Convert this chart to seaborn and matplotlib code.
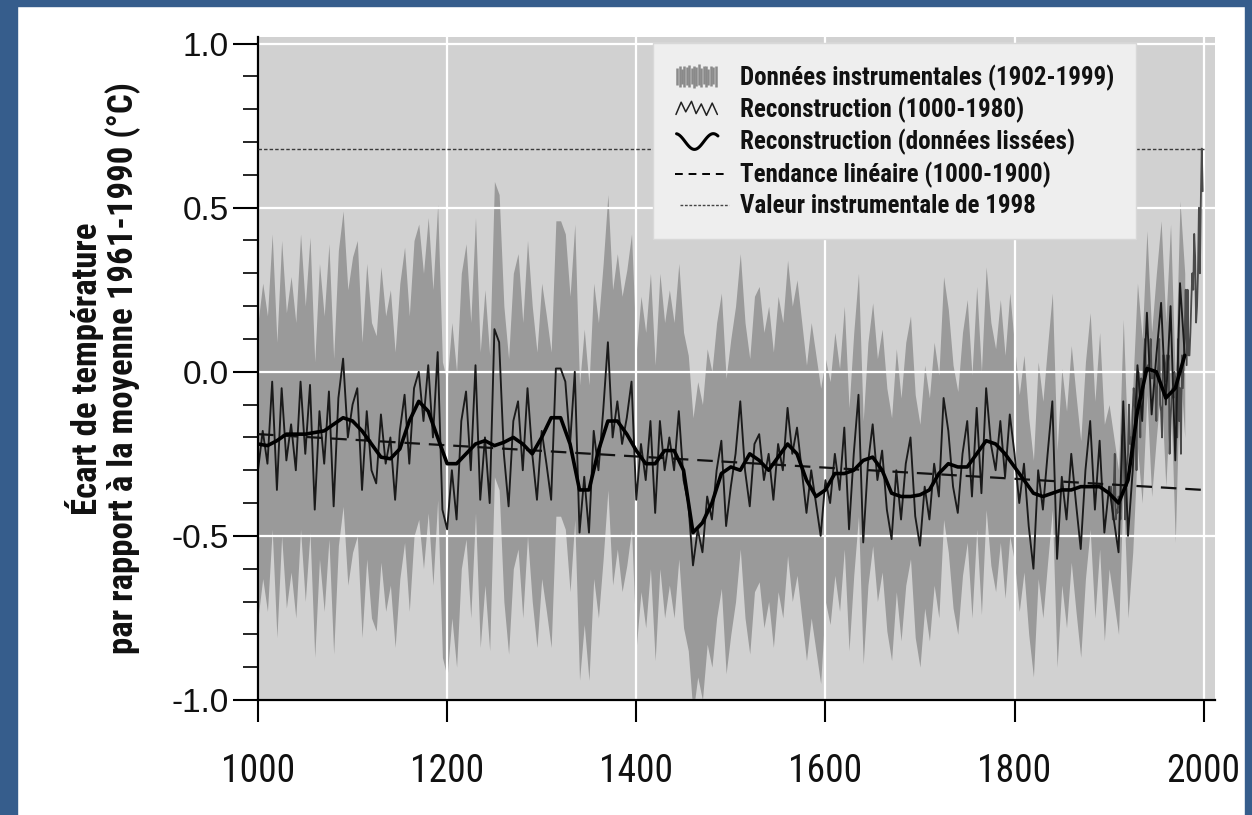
import numpy as np
import pandas as pd
import matplotlib
matplotlib.use("Agg")
import matplotlib.pyplot as plt
import seaborn as sns
from matplotlib.legend_handler import HandlerBase
from matplotlib.lines import Line2D
from matplotlib.collections import LineCollection
from matplotlib.patches import Rectangle
from matplotlib import font_manager as fm
from matplotlib.ticker import MultipleLocator, FixedLocator

# ---------------- data ----------------
recon_years = list(range(1000, 1981, 5))
recon_values = [
    # 1000-1095
    -0.30, -0.18, -0.28, -0.03, -0.36, -0.05, -0.27, -0.16, -0.30, -0.03,
    -0.25, -0.04, -0.42, -0.12, -0.28, -0.06, -0.41, -0.08, 0.04, -0.20,
    # 1100-1195
    -0.10, -0.05, -0.36, -0.12, -0.30, -0.34, -0.13, -0.28, -0.20, -0.39,
    -0.18, -0.07, -0.28, -0.05, 0.00, -0.15, 0.02, -0.20, 0.06, -0.42,
    # 1200-1295
    -0.48, -0.30, -0.45, -0.15, -0.06, -0.30, 0.02, -0.39, -0.20, -0.40,
    0.13, 0.09, -0.25, -0.41, -0.15, -0.09, -0.30, -0.05, -0.25, -0.39,
    # 1300-1395
    -0.18, -0.28, -0.39, 0.01, 0.01, -0.03, -0.22, 0.00, -0.49, -0.32,
    -0.49, -0.18, -0.30, -0.12, 0.09, -0.20, -0.09, -0.22, -0.14, -0.03,
    # 1400-1495
    -0.39, -0.22, -0.33, -0.15, -0.43, -0.15, -0.30, -0.20, -0.30, -0.12,
    -0.33, -0.40, -0.59, -0.48, -0.55, -0.38, -0.45, -0.30, -0.21, -0.47,
    # 1500-1595
    -0.35, -0.25, -0.09, -0.30, -0.41, -0.22, -0.19, -0.33, -0.25, -0.39,
    -0.22, -0.30, -0.11, -0.25, -0.17, -0.30, -0.43, -0.30, -0.40, -0.50,
    # 1600-1695
    -0.33, -0.40, -0.25, -0.36, -0.17, -0.48, -0.25, -0.07, -0.52, -0.28,
    -0.16, -0.33, -0.24, -0.42, -0.51, -0.30, -0.45, -0.28, -0.20, -0.44,
    # 1700-1795
    -0.53, -0.35, -0.45, -0.28, -0.38, -0.08, -0.18, -0.35, -0.43, -0.25,
    -0.15, -0.38, -0.11, -0.37, -0.05, -0.22, -0.30, -0.15, -0.32, -0.13,
    # 1800-1895
    -0.25, -0.40, -0.28, -0.47, -0.60, -0.30, -0.42, -0.25, -0.09, -0.57,
    -0.32, -0.45, -0.25, -0.40, -0.54, -0.30, -0.15, -0.42, -0.21, -0.49,
    # 1900-1980
    -0.35, -0.45, -0.55, -0.09, -0.50, -0.30, 0.02, -0.15, 0.18, -0.13,
    0.05, 0.21, -0.10, 0.20, -0.27, 0.27, 0.05,
]

smooth_years = list(range(1000, 1981, 10))
smooth_values = [
    -0.22, -0.225, -0.21, -0.19, -0.19, -0.19, -0.185, -0.18, -0.16, -0.14,
    -0.15, -0.18, -0.22, -0.26, -0.265, -0.235, -0.15, -0.09, -0.12, -0.20,
    -0.28, -0.28, -0.25, -0.22, -0.21, -0.225, -0.215, -0.20, -0.22, -0.25,
    -0.20, -0.14, -0.14, -0.22, -0.36, -0.36, -0.24, -0.15, -0.15, -0.19,
    -0.24, -0.28, -0.28, -0.24, -0.24, -0.30, -0.49, -0.46, -0.40, -0.31,
    -0.29, -0.30, -0.25, -0.27, -0.30, -0.26, -0.22, -0.25, -0.33, -0.38,
    -0.36, -0.31, -0.31, -0.30, -0.27, -0.26, -0.30, -0.37, -0.38, -0.38,
    -0.375, -0.36, -0.31, -0.28, -0.29, -0.29, -0.25, -0.21, -0.22, -0.25,
    -0.29, -0.33, -0.37, -0.38, -0.37, -0.36, -0.36, -0.35, -0.35, -0.35,
    -0.37, -0.40, -0.33, -0.12, 0.01, 0.00, -0.08, -0.05, 0.05,
]

instr_years = list(range(1902, 2000))
instr_values = [
    -0.35, -0.40, -0.45, -0.35, -0.25, -0.45, -0.42, -0.43,               # 1902-1909
    -0.38, -0.40, -0.45, -0.38, -0.20, -0.18, -0.32, -0.45, -0.30, -0.28, # 1910s
    -0.25, -0.10, -0.22, -0.20, -0.25, -0.12, -0.05, -0.10, -0.12, -0.30, # 1920s
    -0.02, 0.00, -0.05, -0.20, -0.02, -0.08, -0.05, 0.05, 0.10, 0.00,     # 1930s
    0.00, 0.02, 0.00, 0.05, 0.10, -0.02, -0.02, 0.00, -0.02, -0.05,       # 1940s
    -0.15, -0.02, 0.02, 0.10, -0.10, -0.12, -0.20, 0.05, 0.05, 0.02,      # 1950s
    -0.03, 0.05, 0.02, 0.05, -0.25, -0.15, -0.08, -0.05, -0.08, 0.00,     # 1960s
    -0.02, -0.15, -0.20, 0.10, -0.15, -0.05, -0.25, 0.05, -0.05, 0.05,    # 1970s
    0.12, 0.25, 0.02, 0.25, 0.05, 0.05, 0.12, 0.22, 0.30, 0.25,           # 1980s
    0.42, 0.35, 0.15, 0.20, 0.30, 0.50, 0.30, 0.52, 0.68, 0.55,           # 1990s
]

trend_years = [1000, 2000]
trend_values = [-0.19, -0.36]

value_1998 = 0.68
line_1998_years = [1000, 2000]

band_breaks = [1000, 1600, 1800, 1900]
band_halfwidth = [0.45, 0.37, 0.33, 0.25]

x_ticks = [1000, 1200, 1400, 1600, 1800, 2000]
y_ticks = [-1.0, -0.5, 0.0, 0.5, 1.0]
y_ticklabels = ["-1.0", "-0.5", "0.0", "0.5", "1.0"]

legend_labels = [
    "Données instrumentales (1902-1999)",
    "Reconstruction (1000-1980)",
    "Reconstruction (données lissées)",
    "Tendance linéaire (1000-1900)",
    "Valeur instrumentale de 1998",
]
ylabel_text = "Écart de température\npar rapport à la moyenne 1961-1990 (°C)"

# ---------------- style ----------------
sns.set_theme(style="darkgrid", rc={
    "axes.facecolor": "#d1d1d1",
    "grid.color": "white",
    "grid.linewidth": 1.6,
    "figure.facecolor": "white",
})

avail = {f.name for f in fm.fontManager.ttflist}
def pick(names):
    for n in names:
        if n in avail:
            return n
    return "DejaVu Sans"

narrow = pick(["Liberation Sans Narrow", "Roboto Condensed", "Open Sans Condensed", "Liberation Sans"])
regular = pick(["Liberation Sans", "Arimo", "Roboto", "DejaVu Sans"])
plt.rcParams["font.family"] = [narrow, "DejaVu Sans"]

fig = plt.figure(figsize=(12.52, 8.15), dpi=100)
W, H = 1252, 815
ax_left, ax_right, ax_top, ax_bottom = 258, 1215, 37, 700
ax = fig.add_axes([ax_left / W, 1 - ax_bottom / H,
                   (ax_right - ax_left) / W, (ax_bottom - ax_top) / H])

# blue frame of the scan
frame_col = "#365d8c"
fig.patches.append(Rectangle((0, 0), 17 / W, 1, transform=fig.transFigure, color=frame_col, zorder=-5))
fig.patches.append(Rectangle((1 - 7 / W, 0), 7 / W, 1, transform=fig.transFigure, color=frame_col, zorder=-5))
fig.patches.append(Rectangle((0, 1 - 6 / H), 1, 6 / H, transform=fig.transFigure, color=frame_col, zorder=-5))

# ---------------- data frames ----------------
ry = np.array(recon_years)
rv = np.array(recon_values)
hw = np.array(band_halfwidth)[np.searchsorted(band_breaks, ry, side="right") - 1]
recon_df = pd.DataFrame({"year": ry, "value": rv, "lo": rv - hw, "hi": rv + hw})
smooth_df = pd.DataFrame({"year": smooth_years, "value": smooth_values})
instr_df = pd.DataFrame({"year": instr_years, "value": instr_values})
trend_df = pd.DataFrame({"year": trend_years, "value": trend_values})
ref_df = pd.DataFrame({"year": line_1998_years, "value": [value_1998, value_1998]})

# uncertainty band
ax.fill_between(recon_df["year"], recon_df["lo"], recon_df["hi"],
                color="#9a9a9a", lw=0, zorder=1)

sns.lineplot(data=instr_df, x="year", y="value", ax=ax, color="#4a4a4a",
             lw=1.3, legend=False, estimator=None, sort=False, zorder=2)
sns.lineplot(data=recon_df, x="year", y="value", ax=ax, color="#1a1a1a",
             lw=1.35, legend=False, estimator=None, sort=False, zorder=2.5)
sns.lineplot(data=trend_df, x="year", y="value", ax=ax, color="#111111",
             lw=1.6, legend=False, estimator=None, zorder=3)
ax.lines[-1].set_dashes([7, 4])
sns.lineplot(data=smooth_df, x="year", y="value", ax=ax, color="black",
             lw=2.6, legend=False, estimator=None, zorder=3.5)
ax.lines[-1].set_solid_joinstyle("round")
sns.lineplot(data=ref_df, x="year", y="value", ax=ax, color="#3a3a3a",
             lw=1.0, legend=False, estimator=None, zorder=3)
ax.lines[-1].set_dashes([2.5, 1.5])

# ---------------- axes ----------------
ax.set_xlim(1000, 2012)
ax.set_ylim(-1.0, 1.02)
ax.set_axisbelow("line")
ax.xaxis.set_major_locator(FixedLocator(x_ticks))
ax.set_yticks(y_ticks)
ax.set_yticklabels(y_ticklabels)
ax.yaxis.set_minor_locator(MultipleLocator(0.1))
ax.grid(True, which="major", color="white", lw=1.6)
ax.grid(False, which="minor")

for s in ["top", "right"]:
    ax.spines[s].set_visible(False)
for s in ["left", "bottom"]:
    ax.spines[s].set_visible(True)
    ax.spines[s].set_color("black")
    ax.spines[s].set_linewidth(1.6)

ax.tick_params(axis="y", which="major", direction="out", length=18, width=1.5,
               color="black", left=True, pad=3)
ax.tick_params(axis="y", which="minor", direction="out", length=11, width=1.2,
               color="black", left=True)
ax.tick_params(axis="x", which="major", direction="out", length=16, width=1.5,
               color="black", bottom=True, pad=22)
for lab in ax.get_yticklabels():
    lab.set_fontfamily([regular, "DejaVu Sans"])
    lab.set_fontsize(24)
    lab.set_color("#111111")
for lab in ax.get_xticklabels():
    lab.set_fontfamily([narrow, "DejaVu Sans"])
    lab.set_fontsize(27)
    lab.set_color("#111111")

ax.set_xlabel("")
ax.set_ylabel(ylabel_text, fontsize=25, fontweight="bold", color="#111111",
              linespacing=1.05, family=[narrow, "DejaVu Sans"])
ax.yaxis.set_label_coords(-0.122, 0.5)

# ---------------- legend with drawn glyphs ----------------
class ShapeHandler(HandlerBase):
    def __init__(self, xs, ys, **kw):
        super().__init__()
        self.xs = np.asarray(xs, float)
        self.ys = np.asarray(ys, float)
        self.kw = kw

    def create_artists(self, legend, orig_handle, xdescent, ydescent,
                       width, height, fontsize, trans):
        ln = Line2D(self.xs * width - xdescent, self.ys * height - ydescent, **self.kw)
        ln.set_transform(trans)
        return [ln]


class SpikeHandler(HandlerBase):
    def __init__(self, tops, bots, color):
        super().__init__()
        self.tops = tops
        self.bots = bots
        self.color = color

    def create_artists(self, legend, orig_handle, xdescent, ydescent,
                       width, height, fontsize, trans):
        n = len(self.tops)
        xs = np.linspace(0.05, 0.72, n) * width - xdescent
        segs = [[(x, b * height - ydescent), (x, t * height - ydescent)]
                for x, t, b in zip(xs, self.tops, self.bots)]
        lc = LineCollection(segs, colors=self.color, linewidths=1.8)
        lc.set_transform(trans)
        return [lc]


spike_tops = [0.95, 1.05, 0.9, 1.1, 1.0, 1.15, 0.95, 1.1, 1.0, 1.2, 0.95, 1.05, 1.1, 0.9, 1.05, 1.0, 1.1]
spike_bots = [0.0, -0.1, 0.05, -0.15, 0.0, -0.1, 0.05, -0.2, -0.05, 0.0, -0.15, 0.05, -0.1, 0.0, -0.05, 0.05, -0.1]
zig_x = [0.03, 0.12, 0.2, 0.3, 0.38, 0.47, 0.56, 0.66, 0.75]
zig_y = [0.15, 0.85, 0.3, 0.9, 0.2, 0.75, 0.1, 0.8, 0.15]
t = np.linspace(0, 1, 40)
sin_x = 0.04 + 0.72 * t
sin_y = 0.45 + 0.45 * np.sin(np.pi * 1.1 * (t * 2 + 0.5))

h = [Line2D([], []) for _ in range(5)]
hmap = {
    h[0]: SpikeHandler(spike_tops, spike_bots, "#8a8a8a"),
    h[1]: ShapeHandler(zig_x, zig_y, color="#222222", lw=1.1),
    h[2]: ShapeHandler(sin_x, sin_y, color="black", lw=2.2),
    h[3]: ShapeHandler([0.02, 0.95], [0.45, 0.45], color="black", lw=1.4, dashes=[4, 3]),
    h[4]: ShapeHandler([0.1, 0.95], [0.45, 0.45], color="#444444", lw=1.0, dashes=[2, 1.2]),
}
leg = ax.legend(h, legend_labels, handler_map=hmap, loc="upper left",
                bbox_to_anchor=((653 - ax_left) / (ax_right - ax_left), 1 - (43 - ax_top) / (ax_bottom - ax_top)),
                frameon=True, fancybox=False, framealpha=1.0, facecolor="#eeeeee",
                edgecolor="#d8d8d8", borderpad=0.85, labelspacing=0.24,
                handlelength=2.3, handletextpad=0.35, borderaxespad=0,
                prop={"family": [narrow, "DejaVu Sans"], "weight": "bold", "size": 18})
leg.set_zorder(10)
for txt in leg.get_texts():
    txt.set_color("#111111")

fig.savefig("out.png", dpi=100)
